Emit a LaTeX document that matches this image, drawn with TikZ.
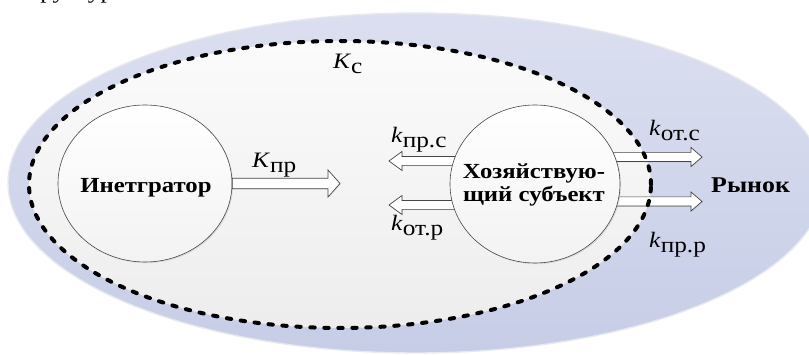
\documentclass[tikz,border=0pt]{standalone}
\usepackage{fontspec}
\setmainfont{Liberation Serif}
\usetikzlibrary{calc,shapes.geometric,shadows}

\definecolor{mktTop}{RGB}{219,223,240}
\definecolor{mktBot}{RGB}{198,205,230}
\definecolor{mktRim}{RGB}{232,233,238}
\definecolor{sysTop}{RGB}{251,251,251}
\definecolor{sysBot}{RGB}{237,237,237}
\definecolor{lineGray}{RGB}{70,70,70}

% horizontally widened text, as set in the figure
\newcommand\wide[1]{\scalebox{1.15}[1]{#1}}
% coefficient: italic letter with a lowered upright index
\newcommand\coef[2]{\wide{\textit{#1}\raisebox{-5pt}{#2}}}

% hollow block arrow between two points on one horizontal line
% #1 start, #2 tip, #3 half shaft width, #4 half head width, #5 head length
\newcommand\hollowarrow[5]{%
  \draw[blockarrow] let \p1=(#1), \p2=(#2), \n1={ifthenelse(\x2>\x1,1,-1)} in
    ({\x1},{\y1+#3}) -- ({\x2-\n1*#5},{\y1+#3}) -- ({\x2-\n1*#5},{\y1+#4})
    -- ({\x2},{\y1}) -- ({\x2-\n1*#5},{\y1-#4}) -- ({\x2-\n1*#5},{\y1-#3})
    -- ({\x1},{\y1-#3}) -- cycle;}

\tikzset{
  market/.style={ellipse, inner sep=0pt, draw=mktRim, line width=1.4pt,
    top color=mktTop, bottom color=mktBot},
  system/.style={ellipse, inner sep=0pt, top color=sysTop, bottom color=sysBot},
  sysring/.style={ellipse, inner sep=0pt, draw=black, line width=4pt,
    line cap=round, dash pattern=on 4.4pt off 9.6pt},
  unit/.style={ellipse, inner sep=0pt, draw=lineGray, line width=0.6pt,
    top color=white, bottom color=sysBot!70!white,
    drop shadow={opacity=0.18, shadow xshift=1.2pt, shadow yshift=-1.2pt}},
  blockarrow/.style={fill=white, draw=lineGray, line width=0.7pt, line join=miter,
    drop shadow={opacity=0.2, shadow xshift=0.8pt, shadow yshift=-0.8pt}},
  lbl/.style={inner sep=0pt, font=\fontsize{22}{24}\selectfont},
  boldlbl/.style={inner sep=0pt, font=\fontsize{21.5}{24}\selectfont\bfseries}
}

\begin{document}
\begin{tikzpicture}[x=1pt, y=-1pt]
\useasboundingbox (0,0) rectangle (809,355);

% caption line above, cut by the page edge
\node[lbl, anchor=base] (caption) at (74,-1.5) {\wide{структуры}};

% market and the system boundary
\node[market, minimum width=816pt, minimum height=340pt] (market) at (416,183) {};
\node[system, minimum width=622pt, minimum height=287pt] (sys) at (340,184.5) {};

% integrator and its flow
\node[unit, minimum width=174pt, minimum height=157pt] (integ) at (145,183.5) {};
\coordinate (kprEnd) at (340,183.5);
\hollowarrow{integ.east}{kprEnd}{5.2}{13.5}{12}

% flows of the economic subject
\coordinate (sUL) at (500,161);
\coordinate (sLL) at (500,205);
\coordinate (sUR) at (570,157);
\coordinate (sLR) at (570,201.5);
\coordinate (tUL) at (389,161);
\coordinate (tLL) at (389,205);
\coordinate (tUR) at (702,157);
\coordinate (tLR) at (702,201.5);
\hollowarrow{sUL}{tUL}{4.4}{9.5}{13}
\hollowarrow{sLL}{tLL}{4.4}{9.5}{13}
\hollowarrow{sUR}{tUR}{4.6}{9.5}{11}
\hollowarrow{sLR}{tLR}{4.6}{9.5}{11}

\node[unit, minimum width=170pt, minimum height=158pt] (subj) at (535,184) {};

% dashed boundary of the system on top of the flows
\node[sysring, minimum width=622pt, minimum height=287pt] (sysring) at (sys.center) {};

% texts
\node[boldlbl, anchor=base] (integTxt) at (146,193) {\wide{Инетгратор}};
\node[boldlbl, anchor=base] (subjTxt1) at (534,179) {\wide{Хозяйствую-}};
\node[boldlbl, anchor=base] (subjTxt2) at (534,202) {\wide{щий субъект}};
\node[boldlbl, anchor=base west, font=\fontsize{22.5}{24}\selectfont\bfseries] (market-txt) at (711,193) {\wide{Рынок}};

\node[lbl, anchor=base west] (kc) at (333,69) {\coef{K}{с}};
\node[lbl, anchor=base west] (kpr) at (252,168) {\coef{K}{пр}};
\node[lbl, anchor=base west] (kprs) at (391,143) {\coef{k}{пр.с}};
\node[lbl, anchor=base west] (kotr) at (391,231) {\coef{k}{от.р}};
\node[lbl, anchor=base west] (kots) at (649,136) {\coef{k}{от.с}};
\node[lbl, anchor=base west] (kprr) at (649,248) {\coef{k}{пр.р}};
\end{tikzpicture}
\end{document}
